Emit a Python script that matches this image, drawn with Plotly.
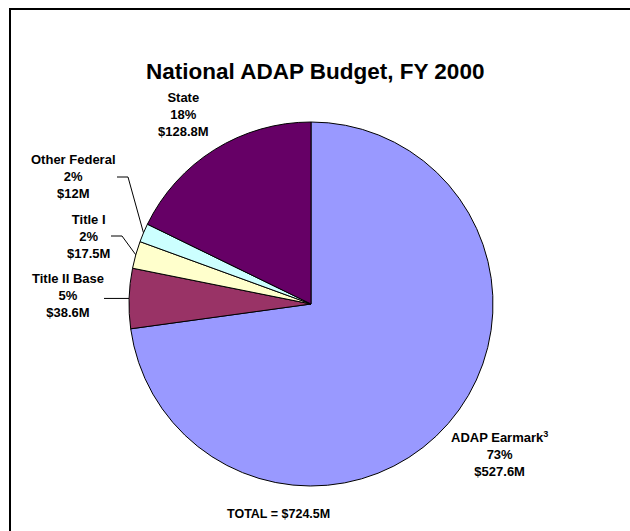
import math
import plotly.graph_objects as go

# ---- data ----
categories = ["ADAP Earmark", "Title II Base", "Title I", "Other Federal", "State"]
values = [527.6, 38.6, 17.5, 12.0, 128.8]
pct_labels = ["73%", "5%", "2%", "2%", "18%"]
money_labels = ["$527.6M", "$38.6M", "$17.5M", "$12M", "$128.8M"]
display_names = ["ADAP Earmark<sup>3</sup>", "Title II Base", "Title I", "Other Federal", "State"]
colors = ["#9999FF", "#993366", "#FFFFCC", "#CCFFFF", "#660066"]
title_text = "National ADAP Budget, FY 2000"
total_text = "TOTAL = $724.5M"

W, H = 630, 531
FONT = "Arial, 'Liberation Sans', sans-serif"

# pie placement (pixels)
cx, cy, r = 311, 304, 182

def px(x):
    return x / W

def py(y):
    return 1 - y / H

fig = go.Figure(go.Pie(
    labels=categories, values=values, sort=False, direction="clockwise", rotation=0,
    marker=dict(colors=colors, line=dict(color="#000000", width=1)),
    textinfo="none", hoverinfo="label+value+percent", showlegend=False,
    domain=dict(x=[px(cx - r), px(cx + r)], y=[py(cy + r), py(cy - r)]),
))

# label centers (pixels) for the text blocks
label_pos = {
    "ADAP Earmark": (499, 454),
    "Title II Base": (68, 295),
    "Title I": (88, 236),
    "Other Federal": (73, 177),
    "State": (183, 114),
}
# leader lines: (start x of horizontal segment, end x of horizontal segment)
leaders = {
    "Title II Base": (104, None),
    "Title I": (111, 122),
    "Other Federal": (117, 128),
}

annotations = []
for name, disp, pct, money in zip(categories, display_names, pct_labels, money_labels):
    x, y = label_pos[name]
    annotations.append(dict(
        x=px(x), y=py(y), xref="paper", yref="paper", showarrow=False,
        text=f"<b>{disp}</b><br><b>{pct}</b><br><b>{money}</b>",
        font=dict(family=FONT, size=13, color="#000000"), align="center",
        xanchor="center", yanchor="middle",
    ))

annotations.append(dict(x=px(315), y=py(72), xref="paper", yref="paper", showarrow=False,
                        text=f"<b>{title_text}</b>",
                        font=dict(family=FONT, size=22.5, color="#000000"),
                        xanchor="center", yanchor="middle"))
annotations.append(dict(x=px(278), y=py(514), xref="paper", yref="paper", showarrow=False,
                        text=f"<b>{total_text}</b>",
                        font=dict(family=FONT, size=12.5, color="#000000"),
                        xanchor="center", yanchor="middle"))

# compute slice mid-angles from data for leader line endpoints
total = sum(values)
cum = 0.0
mid = {}
for name, v in zip(categories, values):
    a0 = cum / total * 360
    cum += v
    a1 = cum / total * 360
    mid[name] = (a0 + a1) / 2

shapes = []
for name, (x0, x1) in leaders.items():
    th = math.radians(mid[name])
    ex = cx + r * math.sin(th)
    ey = cy - r * math.cos(th)
    ly = label_pos[name][1]
    if x1 is None:
        pts = [(x0, ey), (ex, ey)]
    else:
        pts = [(x0, ly), (x1, ly), (ex, ey)]
    path = "M " + " L ".join(f"{px(a)},{py(b)}" for a, b in pts)
    shapes.append(dict(type="path", path=path, xref="paper", yref="paper",
                       line=dict(color="#000000", width=1)))

# frame lines (top and left)
shapes.append(dict(type="line", xref="paper", yref="paper", x0=px(9), x1=1.0,
                   y0=py(9), y1=py(9), line=dict(color="#000000", width=2)))
shapes.append(dict(type="line", xref="paper", yref="paper", x0=px(10), x1=px(10),
                   y0=py(9), y1=0.0, line=dict(color="#000000", width=2)))

fig.update_layout(
    width=W, height=H, margin=dict(l=0, r=0, t=0, b=0),
    paper_bgcolor="#FFFFFF", plot_bgcolor="#FFFFFF",
    annotations=annotations, shapes=shapes, showlegend=False,
)

fig.write_html("out.html")
